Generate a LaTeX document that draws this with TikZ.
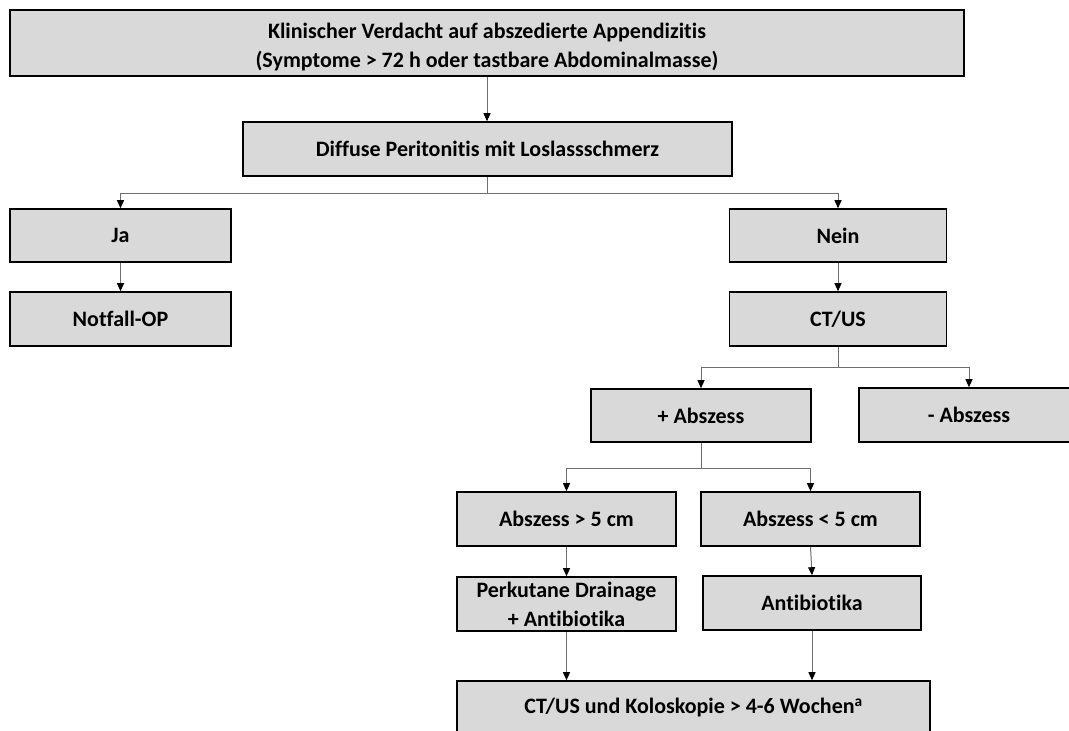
\documentclass[tikz,border=0pt]{standalone}
\usepackage{fontspec}
\setmainfont[Ligatures=NoCommon]{Carlito}
\usetikzlibrary{arrows.meta}
\definecolor{boxfill}{HTML}{D9D9D9}
\definecolor{linegray}{HTML}{6E6E6E}
\tikzset{
  box/.style={draw=black, line width=1.6pt, fill=boxfill, rectangle, inner sep=0pt,
    align=center, font=\fontsize{22}{29}\selectfont\bfseries},
  conn/.style={draw=linegray, line width=1pt},
  arr/.style={conn, -{Triangle[width=7pt,length=8pt,color=black]}}
}
\begin{document}
\begin{tikzpicture}[x=1pt,y=-1pt]
\useasboundingbox (0,0) rectangle (1069,731);
\clip (0,0) rectangle (1069,731);
\node[box, minimum width=954pt, minimum height=66pt] (top) at (487,43)
  {\raisebox{-4pt}[\height][\depth]{\begin{tabular}{@{}c@{}}Klinischer Verdacht auf abszedierte Appendizitis\\[-0.5pt](Symptome > 72 h oder tastbare Abdominalmasse)\end{tabular}}};
\node[box, minimum width=489pt, minimum height=54pt] (diff) at (487.5,149) {Diffuse Peritonitis mit Loslassschmerz};
\node[box, minimum width=221pt, minimum height=53pt] (ja) at (120.5,235.5) {Ja};
\node[box, minimum width=221pt, minimum height=54pt] (notfall) at (120.5,319) {Notfall-OP};
\node[box, minimum width=217pt, minimum height=53pt] (nein) at (838,235.5) {Nein};
\node[box, minimum width=217pt, minimum height=54pt] (ctus) at (838,319) {CT/US};
\node[box, minimum width=220pt, minimum height=53pt] (plus) at (701,415.5) {+ Abszess};
\node[box, minimum width=220pt, minimum height=54pt] (minus) at (969,415) {- Abszess};
\node[box, minimum width=219pt, minimum height=54pt] (gt) at (566.5,519) {Abszess > 5 cm};
\node[box, minimum width=219pt, minimum height=54pt] (lt) at (810.5,519) {Abszess < 5 cm};
\node[box, minimum width=219pt, minimum height=54pt] (perk) at (566.5,604) {Perkutane Drainage\\+ Antibiotika};
\node[box, minimum width=218pt, minimum height=54pt] (anti) at (812,603) {Antibiotika};
\node[box, minimum width=473pt, minimum height=54pt] (bot) at (693.5,708) {CT/US und Koloskopie > 4-6 Wochen\textsuperscript{a}};

\draw[arr] (top.south) -- (top.south |- diff.north);
\draw[conn] (diff.south) -- ++(0,17) coordinate (b1);
\draw[arr] (b1) -| (ja.north);
\draw[arr] (b1) -| (nein.north);
\draw[arr] (ja.south) -- (notfall.north);
\draw[arr] (nein.south) -- (ctus.north);
\draw[conn] (ctus.south) -- ++(0,21) coordinate (b2);
\draw[arr] (b2) -| (plus.north);
\draw[arr] (b2) -| (minus.north);
\draw[conn] (plus.south) -- ++(0,26) coordinate (b3);
\draw[arr] (b3) -| (gt.north);
\draw[arr] (b3) -| (lt.north);
\draw[arr] (gt.south) -- (perk.north);
\draw[arr] (lt.south) -- (anti.north);
\draw[arr] (perk.south) -- (perk.south |- bot.north);
\draw[arr] (anti.south) -- (anti.south |- bot.north);
\end{tikzpicture}
\end{document}
